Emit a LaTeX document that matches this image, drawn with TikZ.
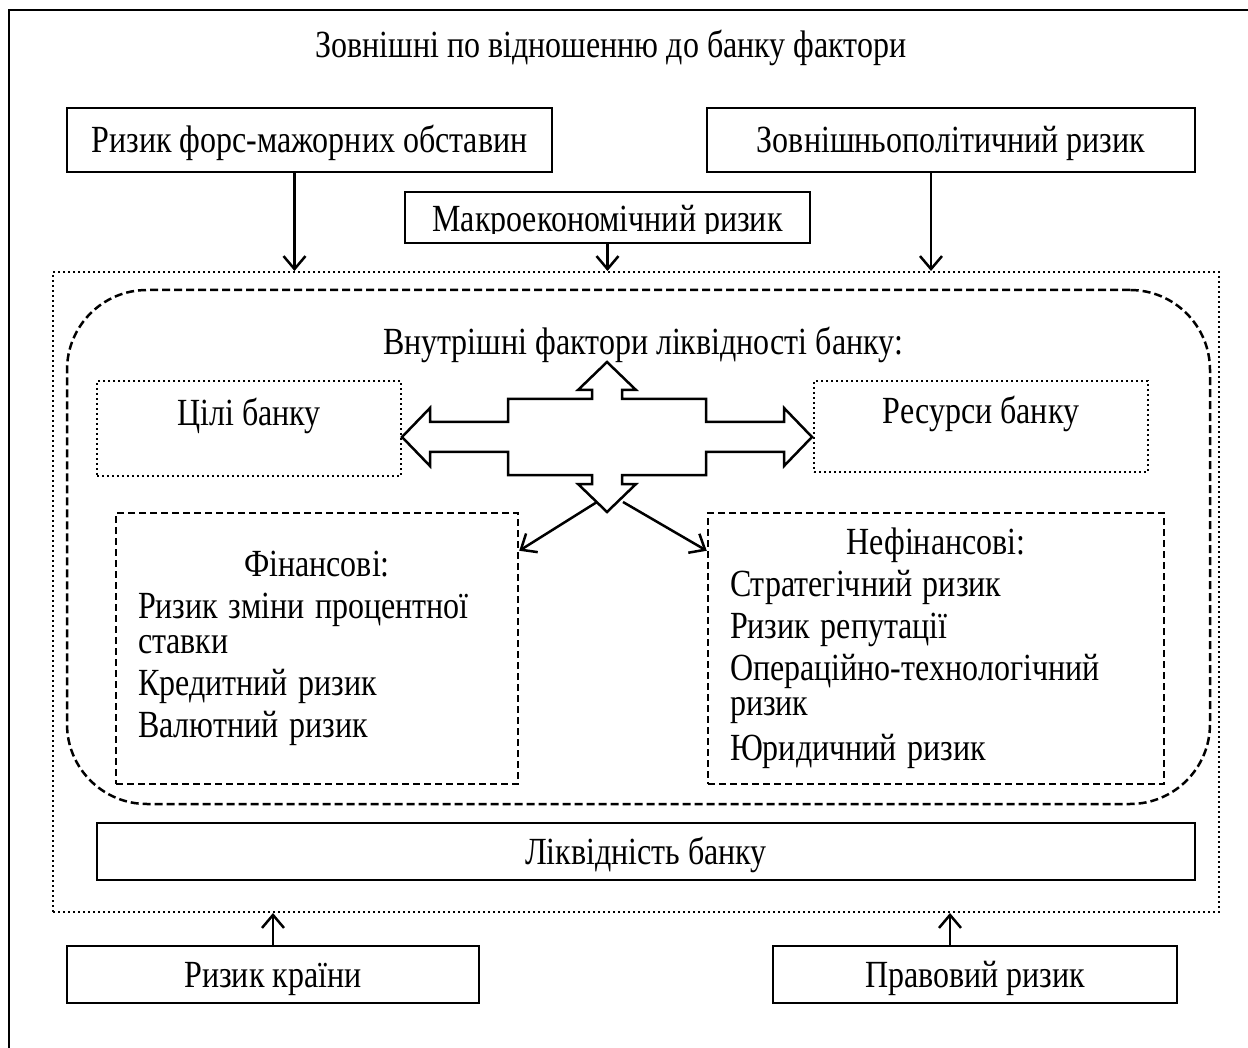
\documentclass[tikz,border=0pt]{standalone}
\usepackage{fontspec}
\usepackage{graphicx}
\setmainfont{Liberation Serif}
\usetikzlibrary{arrows.meta,positioning}
\newcommand\vs[1]{\scalebox{1}[1.2]{#1}}
\lineskiplimit=-100pt
\tikzset{solidbox/.style={draw, line width=2.5pt, inner sep=0pt, text height=25pt, text depth=0pt},
  dotbox/.style={draw, line width=2pt, dash pattern=on 2pt off 3pt, inner sep=0pt},
  dashbox/.style={draw, line width=2.5pt, dash pattern=on 7pt off 4pt, align=left, inner xsep=22pt},
  label text/.style={text height=25pt, text depth=0pt},
  arr/.style={line width=2.5pt, -{Straight Barb[length=13pt,width=22pt]}},
  bigarrow/.style={line width=2.5pt, line join=miter}}

\begin{document}
\begin{tikzpicture}[x=1pt,y=-1pt,font=\fontsize{32}{35}\selectfont]
   \useasboundingbox (0,0) rectangle (1248,1048);
   \draw[line width=2pt] (9,1200) |- (1400,10);
   \node[label text] (title) at (611,45) {\vs{Зовнішні по відношенню до банку фактори}};
   \node[solidbox, minimum width=485, minimum height=64] (force) at (309.5,140) {\vs{Ризик форс-мажорних обставин}};
   \node[solidbox, minimum width=488, minimum height=64] (polit) at (951,140) {\vs{Зовнішньополітичний ризик}};
   \node[solidbox, minimum width=405, minimum height=51,
     path picture={\clip ([yshift=9pt]path picture bounding box.south west) rectangle (path picture bounding box.north east);
       \node[anchor=base] at ([yshift=11pt]path picture bounding box.south) {\vs{Макроекономічний ризик}};}] (macro) at (607.5,217.5) {};
   \node[dotbox, minimum width=1166, minimum height=640] (zone) at (636,592) {};
   \node[draw, line width=2.5pt, dash pattern=on 8pt off 4pt, rounded corners=80pt, minimum width=1143, minimum height=514] (core) at (638.5,547) {};
   \node[label text] (coretitle) at (643,342) {\vs{Внутрішні фактори ліквідності банку:}};
   \node[dotbox, minimum width=304, minimum height=95, text height=25pt, text depth=30pt] (goals) at (249,428.5) {\vs{Цілі банку}};
   \node[dotbox, minimum width=334, minimum height=91, text height=25pt, text depth=30pt] (res) at (981,426.5) {\vs{Ресурси банку}};
   \node[dashbox, minimum height=271, text width=358pt] (fin) at (317,648.5) {\hfill\vs{Фінансові:}\hfill\null\\[7pt]
     \vs{Ризик зміни процентної}\\\vs{ставки}\\[7pt]\vs{Кредитний ризик}\\[7pt]\vs{Валютний ризик}};
   \node[dashbox, minimum height=271, text width=412pt] (nonfin) at (936,648.5) {\hfill\vs{Нефінансові:}\hfill\null\\[7pt]
     \vs{Стратегічний ризик}\\[7pt]\vs{Ризик репутації}\\[7pt]\vs{Операційно-технологічний}\\\vs{ризик}\\[10pt]\vs{Юридичний ризик}};
   \node[solidbox, minimum width=1098, minimum height=57] (liq) at (646,851.5) {\vs{Ліквідність банку}};
   \node[solidbox, minimum width=412, minimum height=57] (country) at (273,974.5) {\vs{Ризик країни}};
   \node[solidbox, minimum width=404, minimum height=57] (legal) at (975,974.5) {\vs{Правовий ризик}};

   \coordinate (hub) at (607,437);
   \draw[bigarrow, shift={(hub)}] (0,-75) -- (29,-47) -- (15,-47) -- (15,-38) -- (99,-38) -- (99,-15)
     -- (177,-15) -- (177,-29) -- (205,0) -- (177,29) -- (177,15) -- (99,15) -- (99,38) -- (15,38)
     -- (15,47) -- (29,47) -- (0,75) -- (-29,47) -- (-15,47) -- (-15,38) -- (-99,38) -- (-99,15)
     -- (-177,15) -- (-177,29) -- (-205,0) -- (-177,-29) -- (-177,-15) -- (-99,-15) -- (-99,-38)
     -- (-15,-38) -- (-15,-47) -- (-29,-47) -- cycle;
   \draw[arr] ([shift={(-10,65)}]hub) -- ([yshift=-39pt]fin.north east);
   \draw[arr] ([shift={(16,65)}]hub) -- ([yshift=-39pt]nonfin.north west);

   \coordinate (forcefoot) at ([xshift=-15pt]force.south);
   \coordinate (politfoot) at ([xshift=-20pt]polit.south);
   \coordinate (legalhead) at ([xshift=-25pt]legal.north);
   \draw[arr] (forcefoot) -- (forcefoot |- zone.north);
   \draw[arr] (macro.south) -- (macro.south |- zone.north);
   \draw[arr] (politfoot) -- (politfoot |- zone.north);
   \draw[arr] (country.north) -- (country.north |- zone.south);
   \draw[arr] (legalhead) -- (legalhead |- zone.south);
\end{tikzpicture}
\end{document}
